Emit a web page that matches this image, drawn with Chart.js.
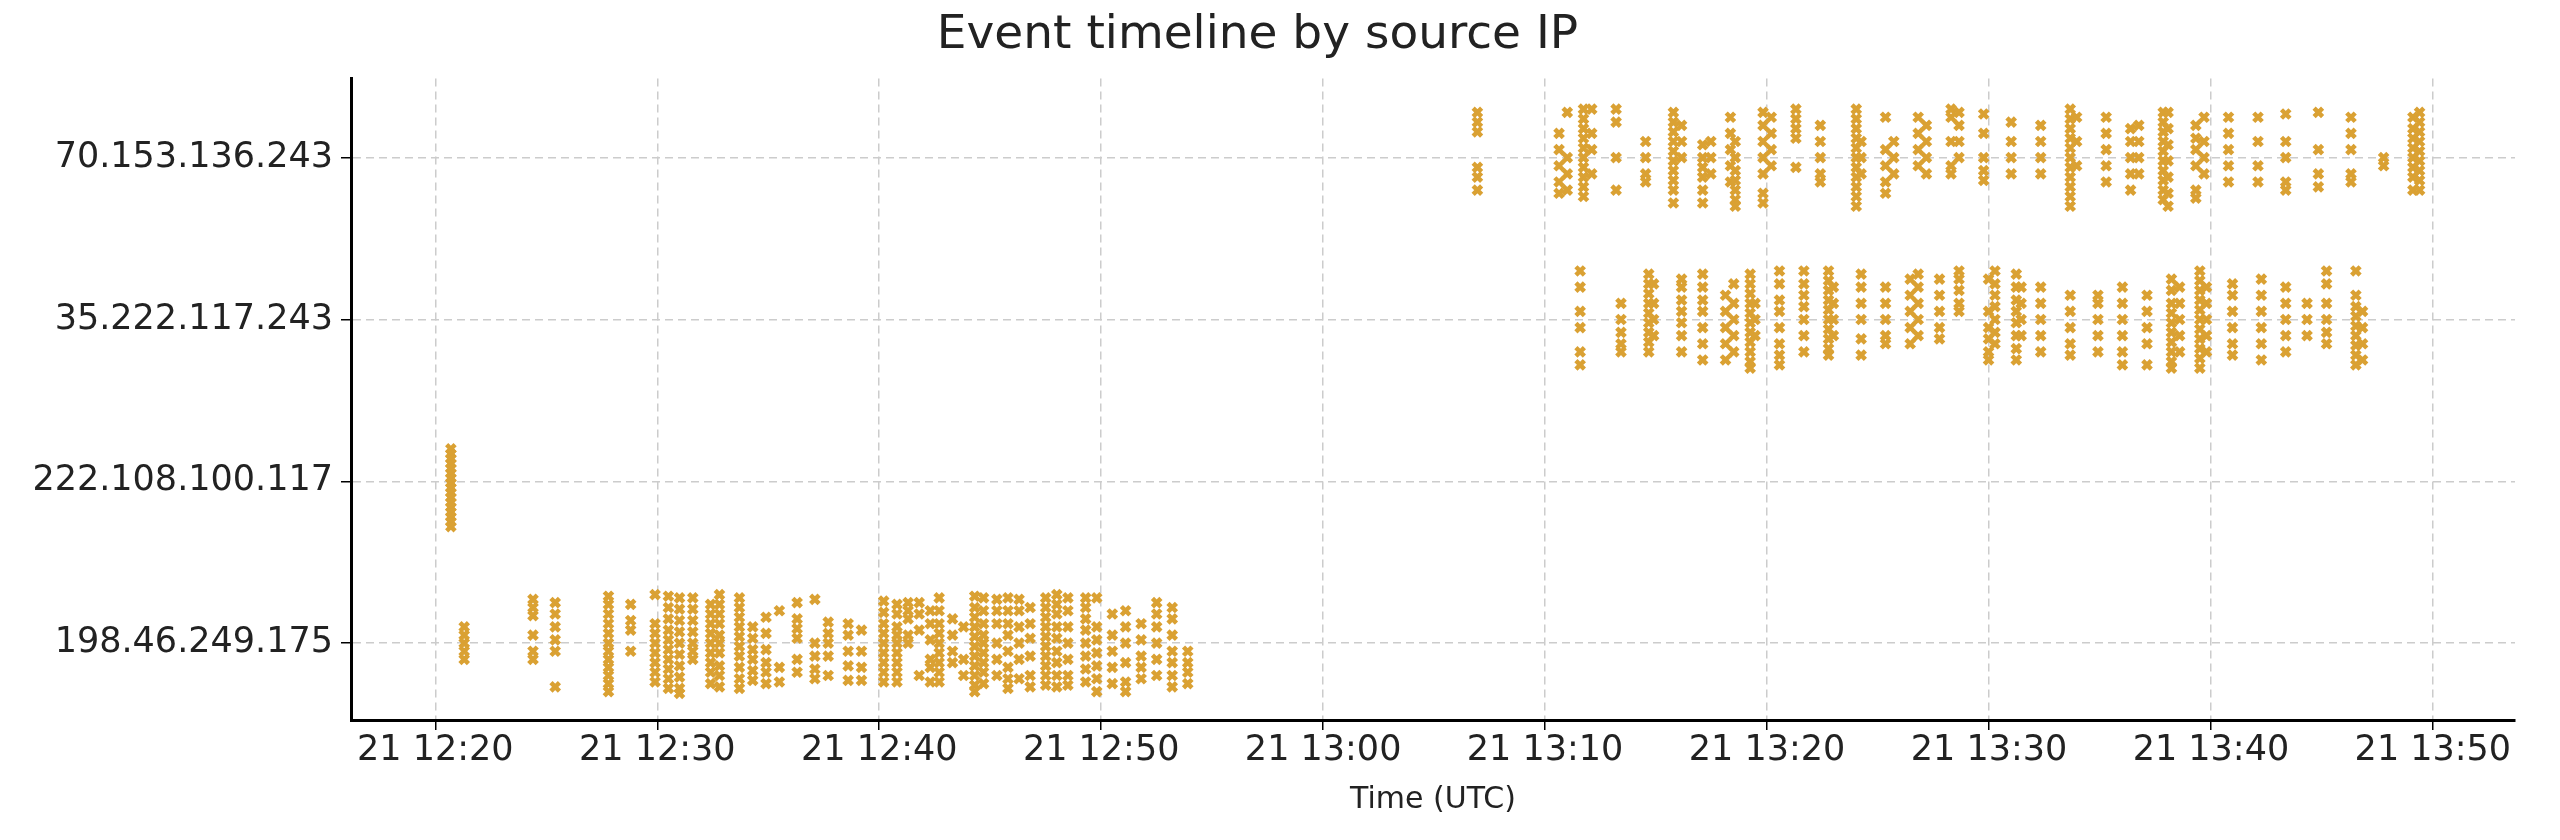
<!DOCTYPE html>
<html><head><meta charset="utf-8">
<script src="https://cdn.jsdelivr.net/npm/chart.js@4"></script>
<style>html,body{margin:0;padding:0;background:#fff}</style>
</head><body>
<canvas id="c" width="2560" height="840"></canvas>
<script>
// Categories (bottom to top)
const ipLabels = ['198.46.249.175', '222.108.100.117', '35.222.117.243', '70.153.136.243'];
// x tick labels (minutes after 12:00 on day 21)
const xTickMinutes = [20, 30, 40, 50, 60, 70, 80, 90, 100, 110];
// Each column: [minutes after 12:00, vertical offsets within the row]
const cols198 = [
 [21.3,[0.1,0.05,0,-0.05,-0.1]],
 [24.4,[0.27,0.22,0.17,0.05,-0.05,-0.1]],
 [25.4,[0.25,0.18,0.1,0.02,-0.05,-0.27]],
 [27.8,[0.29,0.24,0.18,0.12,0.06,0.0,-0.05,-0.1,-0.15,-0.2,-0.25,-0.3]],
 [28.8,[0.24,0.14,0.08,-0.05]],
 [29.9,[0.3,0.12,0.06,0,-0.06,-0.12,-0.18,-0.24]],
 [30.5,[0.29,0.22,0.15,0.08,0.02,-0.04,-0.1,-0.16,-0.22,-0.28]],
 [31.0,[0.28,0.21,0.14,0.07,0,-0.07,-0.14,-0.21,-0.28,-0.31]],
 [31.6,[0.28,0.21,0.14,0.07,0,-0.05,-0.1]],
 [32.4,[0.24,0.18,0.12,0.06,0,-0.06,-0.12,-0.18,-0.25]],
 [32.8,[0.3,0.24,0.18,0.12,0.05,0,-0.06,-0.14,-0.2,-0.27]],
 [33.7,[0.28,0.22,0.16,0.1,0.04,-0.02,-0.08,-0.15,-0.22,-0.28]],
 [34.3,[0.1,0.03,-0.04,-0.1,-0.17,-0.23]],
 [34.9,[0.16,0.06,-0.04,-0.12,-0.18,-0.25]],
 [35.5,[0.2,-0.15,-0.24]],
 [36.3,[0.25,0.15,0.09,0.03,-0.1,-0.18]],
 [37.1,[0.27,0.0,-0.08,-0.16,-0.22]],
 [37.7,[0.13,0.06,0.0,-0.08,-0.2]],
 [38.6,[0.12,0.05,-0.05,-0.14,-0.23]],
 [39.2,[0.08,-0.05,-0.15,-0.23]],
 [40.2,[0.26,0.19,0.12,0.06,0,-0.06,-0.12,-0.18,-0.24]],
 [40.8,[0.24,0.18,0.1,0.05,0,-0.06,-0.12,-0.18,-0.24]],
 [41.3,[0.25,0.2,0.15,0.05,0.0]],
 [41.8,[0.25,0.18,0.08,-0.2]],
 [42.3,[0.2,0.12,0.02,-0.1,-0.15,-0.24]],
 [42.7,[0.28,0.2,0.12,0.06,0.0,-0.06,-0.12,-0.18,-0.24]],
 [43.3,[0.15,0.05,-0.05,-0.12]],
 [43.8,[0.1,-0.1,-0.2]],
 [44.3,[0.29,0.22,0.16,0.1,0.04,-0.02,-0.08,-0.14,-0.2,-0.26,-0.3]],
 [44.7,[0.28,0.2,0.12,0.05,0.0,-0.06,-0.12,-0.18,-0.25]],
 [45.3,[0.27,0.2,0.12,0.0,-0.1,-0.2]],
 [45.8,[0.28,0.2,0.12,0.05,-0.05,-0.15,-0.22,-0.28]],
 [46.3,[0.27,0.2,0.1,0.0,-0.1,-0.22]],
 [46.8,[0.22,0.12,0.03,-0.08,-0.2,-0.27]],
 [47.5,[0.28,0.22,0.16,0.1,0.04,-0.02,-0.08,-0.14,-0.2,-0.26]],
 [48.0,[0.3,0.24,0.18,0.1,0.03,-0.05,-0.12,-0.2,-0.27]],
 [48.5,[0.28,0.2,0.1,0.0,-0.1,-0.2,-0.26]],
 [49.3,[0.28,0.22,0.15,0.08,0.0,-0.08,-0.16,-0.24]],
 [49.8,[0.28,0.1,0.02,-0.06,-0.14,-0.22,-0.3]],
 [50.5,[0.18,0.05,-0.05,-0.15,-0.25]],
 [51.1,[0.2,0.1,0.0,-0.12,-0.24,-0.3]],
 [51.8,[0.12,0.02,-0.08,-0.15,-0.22]],
 [52.5,[0.25,0.18,0.1,0.0,-0.1,-0.2]],
 [53.2,[0.22,0.15,0.05,-0.05,-0.12,-0.2,-0.27]],
 [53.9,[-0.05,-0.12,-0.18,-0.25]]
];
const cols222 = [
 [20.7,[0.2,0.17,0.14,0.11,0.08,0.05,0.02,-0.01,-0.04,-0.07,-0.1,-0.13,-0.16,-0.19,-0.22,-0.25,-0.28]]
];
const cols35 = [
 [71.58,[0.3,0.2,0.05,-0.05,-0.2,-0.28]],
 [73.42,[0.1,0.0,-0.08,-0.15,-0.2]],
 [74.67,[0.28,0.22,0.16,0.1,0.04,-0.02,-0.08,-0.14,-0.2]],
 [74.89,[0.22,0.1,0.0,-0.1]],
 [76.15,[0.25,0.2,0.12,0.05,-0.02,-0.1,-0.2]],
 [77.1,[0.28,0.2,0.12,0.05,-0.05,-0.15,-0.25]],
 [78.13,[0.15,0.05,-0.05,-0.15,-0.25]],
 [78.5,[0.22,0.1,0.0,-0.1,-0.2]],
 [79.24,[0.28,0.22,0.16,0.1,0.04,-0.02,-0.08,-0.14,-0.2,-0.26,-0.3]],
 [79.46,[0.1,0.0,-0.1]],
 [80.56,[0.3,0.22,0.12,0.05,-0.05,-0.15,-0.22,-0.28]],
 [81.66,[0.3,0.22,0.15,0.08,0.0,-0.1,-0.2]],
 [82.77,[0.3,0.24,0.18,0.12,0.06,0.0,-0.06,-0.12,-0.18,-0.22]],
 [82.99,[0.2,0.1,0.0,-0.1]],
 [84.24,[0.28,0.2,0.1,0.0,-0.12,-0.22]],
 [85.34,[0.2,0.1,0.0,-0.1,-0.15]],
 [86.45,[0.25,0.15,0.05,-0.05,-0.15]],
 [86.81,[0.28,0.2,0.1,0.0,-0.1]],
 [87.77,[0.25,0.15,0.05,-0.05,-0.12]],
 [88.65,[0.3,0.25,0.18,0.1,0.05]],
 [89.98,[0.25,0.05,-0.05,-0.12,-0.2,-0.25]],
 [90.27,[0.3,0.22,0.15,0.08,0.0,-0.08,-0.15]],
 [91.23,[0.28,0.2,0.12,0.05,-0.02,-0.1,-0.18,-0.25]],
 [91.45,[0.2,0.1,0.0,-0.1]],
 [92.33,[0.2,0.1,0.0,-0.1,-0.2]],
 [93.66,[0.15,0.05,-0.05,-0.15,-0.22]],
 [94.91,[0.15,0.1,0.0,-0.1,-0.2]],
 [96.01,[0.2,0.1,0.0,-0.1,-0.2,-0.28]],
 [97.12,[0.15,0.05,-0.05,-0.15,-0.28]],
 [98.22,[0.25,0.18,0.1,0.04,-0.02,-0.08,-0.14,-0.2,-0.26,-0.3]],
 [98.59,[0.2,0.1,0.0,-0.1,-0.2]],
 [99.5,[0.3,0.24,0.18,0.12,0.06,0.0,-0.06,-0.12,-0.18,-0.24,-0.3]],
 [99.8,[0.2,0.1,0.0,-0.1,-0.2]],
 [100.97,[0.22,0.15,0.05,-0.05,-0.15,-0.22]],
 [102.27,[0.25,0.15,0.05,-0.05,-0.15,-0.25]],
 [103.37,[0.2,0.1,0.0,-0.1,-0.2]],
 [104.33,[0.1,0.0,-0.1]],
 [105.21,[0.3,0.22,0.1,0.0,-0.08,-0.15]],
 [106.53,[0.3,0.15,0.08,0.02,-0.04,-0.1,-0.16,-0.22,-0.28]],
 [106.83,[0.05,-0.05,-0.15,-0.25]]
];
const cols70 = [
 [66.95,[0.28,0.22,0.16,-0.06,-0.12,-0.2]],
 [70.63,[0.15,0.05,-0.05,-0.15,-0.22]],
 [71.0,[0.28,0.0,-0.1,-0.2]],
 [71.73,[0.3,0.24,0.18,0.12,0.06,0.0,-0.06,-0.12,-0.18,-0.24]],
 [72.1,[0.3,0.15,0.05,-0.1]],
 [73.2,[0.3,0.22,0.0,-0.2]],
 [74.53,[0.1,0.0,-0.1,-0.15]],
 [75.78,[0.28,0.22,0.16,0.1,0.04,-0.02,-0.08,-0.14,-0.2,-0.28]],
 [76.15,[0.2,0.1,0.0]],
 [77.1,[0.08,0.0,-0.06,-0.12,-0.2,-0.28]],
 [77.47,[0.1,0.0,-0.1]],
 [78.35,[0.25,0.15,0.05,-0.05,-0.15]],
 [78.57,[0.1,0.0,-0.08,-0.14,-0.2,-0.26,-0.3]],
 [79.82,[0.28,0.2,0.1,0.0,-0.1,-0.22,-0.28]],
 [80.19,[0.25,0.15,0.05,-0.05]],
 [81.3,[0.3,0.24,0.18,0.12,-0.06]],
 [82.4,[0.2,0.1,0.0,-0.1,-0.15]],
 [84.02,[0.3,0.24,0.18,0.12,0.06,0.0,-0.06,-0.12,-0.18,-0.24,-0.3]],
 [84.24,[0.1,0.0,-0.1]],
 [85.34,[0.25,0.05,-0.05,-0.15,-0.22]],
 [85.71,[0.1,0.0,-0.1]],
 [86.81,[0.25,0.15,0.05,-0.05]],
 [87.18,[0.2,0.1,0.0,-0.1]],
 [88.29,[0.3,0.25,0.1,-0.05,-0.1]],
 [88.65,[0.28,0.2,0.1,0.0]],
 [89.76,[0.27,0.15,0.0,-0.08,-0.14]],
 [91.0,[0.22,0.1,0.0,-0.1]],
 [92.33,[0.2,0.1,0.0,-0.1]],
 [93.66,[0.3,0.24,0.18,0.12,0.06,0.0,-0.06,-0.12,-0.18,-0.24,-0.3]],
 [93.95,[0.25,0.1,-0.05]],
 [95.28,[0.25,0.15,0.05,-0.05,-0.15]],
 [96.38,[0.18,0.1,0.0,-0.1,-0.2]],
 [96.75,[0.2,0.1,0.0,-0.1]],
 [97.85,[0.28,0.22,0.16,0.1,0.04,-0.02,-0.08,-0.14,-0.2,-0.26]],
 [98.07,[0.28,0.18,0.08,-0.02,-0.12,-0.22,-0.3]],
 [99.32,[0.2,0.12,0.05,-0.05,-0.2,-0.25]],
 [99.69,[0.25,0.1,0.0,-0.1]],
 [100.79,[0.25,0.15,0.05,-0.05,-0.15]],
 [102.12,[0.25,0.1,-0.05,-0.15]],
 [103.37,[0.27,0.1,0.0,-0.15,-0.2]],
 [104.84,[0.28,0.05,-0.1,-0.18]],
 [106.31,[0.25,0.15,0.05,-0.1,-0.15]],
 [107.78,[0.0,-0.05]],
 [109.1,[0.25,0.18,0.12,0.06,0.0,-0.06,-0.12,-0.2]],
 [109.4,[0.28,0.22,0.16,0.1,0.04,-0.02,-0.08,-0.14,-0.2]]
];
const allCols = [cols198, cols222, cols35, cols70];

function toPoints(cols, row){
  const pts = [];
  cols.forEach(([t, offs]) => offs.forEach(o => pts.push({x: t, y: row + o})));
  return pts;
}
const points = [];
allCols.forEach((c, i) => points.push(...toPoints(c, i)));

function pad(n){return (n<10?'0':'')+n;}
function fmt(m){const h=12+Math.floor(m/60);return '21 '+h+':'+pad(m%60);}

const font = 'DejaVu Sans';
new Chart(document.getElementById('c'), {
  type: 'scatter',
  data: { datasets: [{ data: points, pointStyle: 'crossRot', pointRadius: 6, pointBorderWidth: 4.5,
    borderColor: '#DAA133', backgroundColor: '#DAA133' }] },
  options: {
    responsive: false, animation: false, devicePixelRatio: 1,
    layout: { padding: { left: 0, right: 45, top: 0, bottom: 0 } },
    plugins: {
      legend: { display: false }, tooltip: { enabled: false },
      title: { display: true, text: 'Event timeline by source IP', color: '#222',
        font: { family: font, size: 47, weight: 'normal' }, padding: { top: 8, bottom: 14 } }
    },
    scales: {
      x: {
        type: 'linear', min: 16.2, max: 113.7,
        afterBuildTicks: s => { s.ticks = xTickMinutes.map(v => ({ value: v })); },
        afterFit: s => { s.height = 120; },
        ticks: { callback: v => fmt(v), color: '#222', font: { family: font, size: 35 }, maxRotation: 0, padding: 0 },
        grid: { color: '#cccccc', lineWidth: 1.5, tickColor: '#000', tickLength: 10 },
        border: { color: '#000', width: 3, dash: [8, 5] },
        title: { display: true, text: 'Time (UTC)', color: '#222', font: { family: font, size: 30 }, padding: { top: 4, bottom: 22 } }
      },
      y: {
        type: 'linear', min: -0.475, max: 3.49,
        afterBuildTicks: s => { s.ticks = ipLabels.map((_, i) => ({ value: i })); },
        afterFit: s => { s.width = 351; },
        ticks: { callback: v => ipLabels[v], color: '#222', font: { family: font, size: 35 }, padding: 8 },
        grid: { color: '#cccccc', lineWidth: 1.5, tickColor: '#000', tickLength: 10 },
        border: { color: '#000', width: 3, dash: [8, 5] }
      }
    }
  }
});
</script>
</body></html>
